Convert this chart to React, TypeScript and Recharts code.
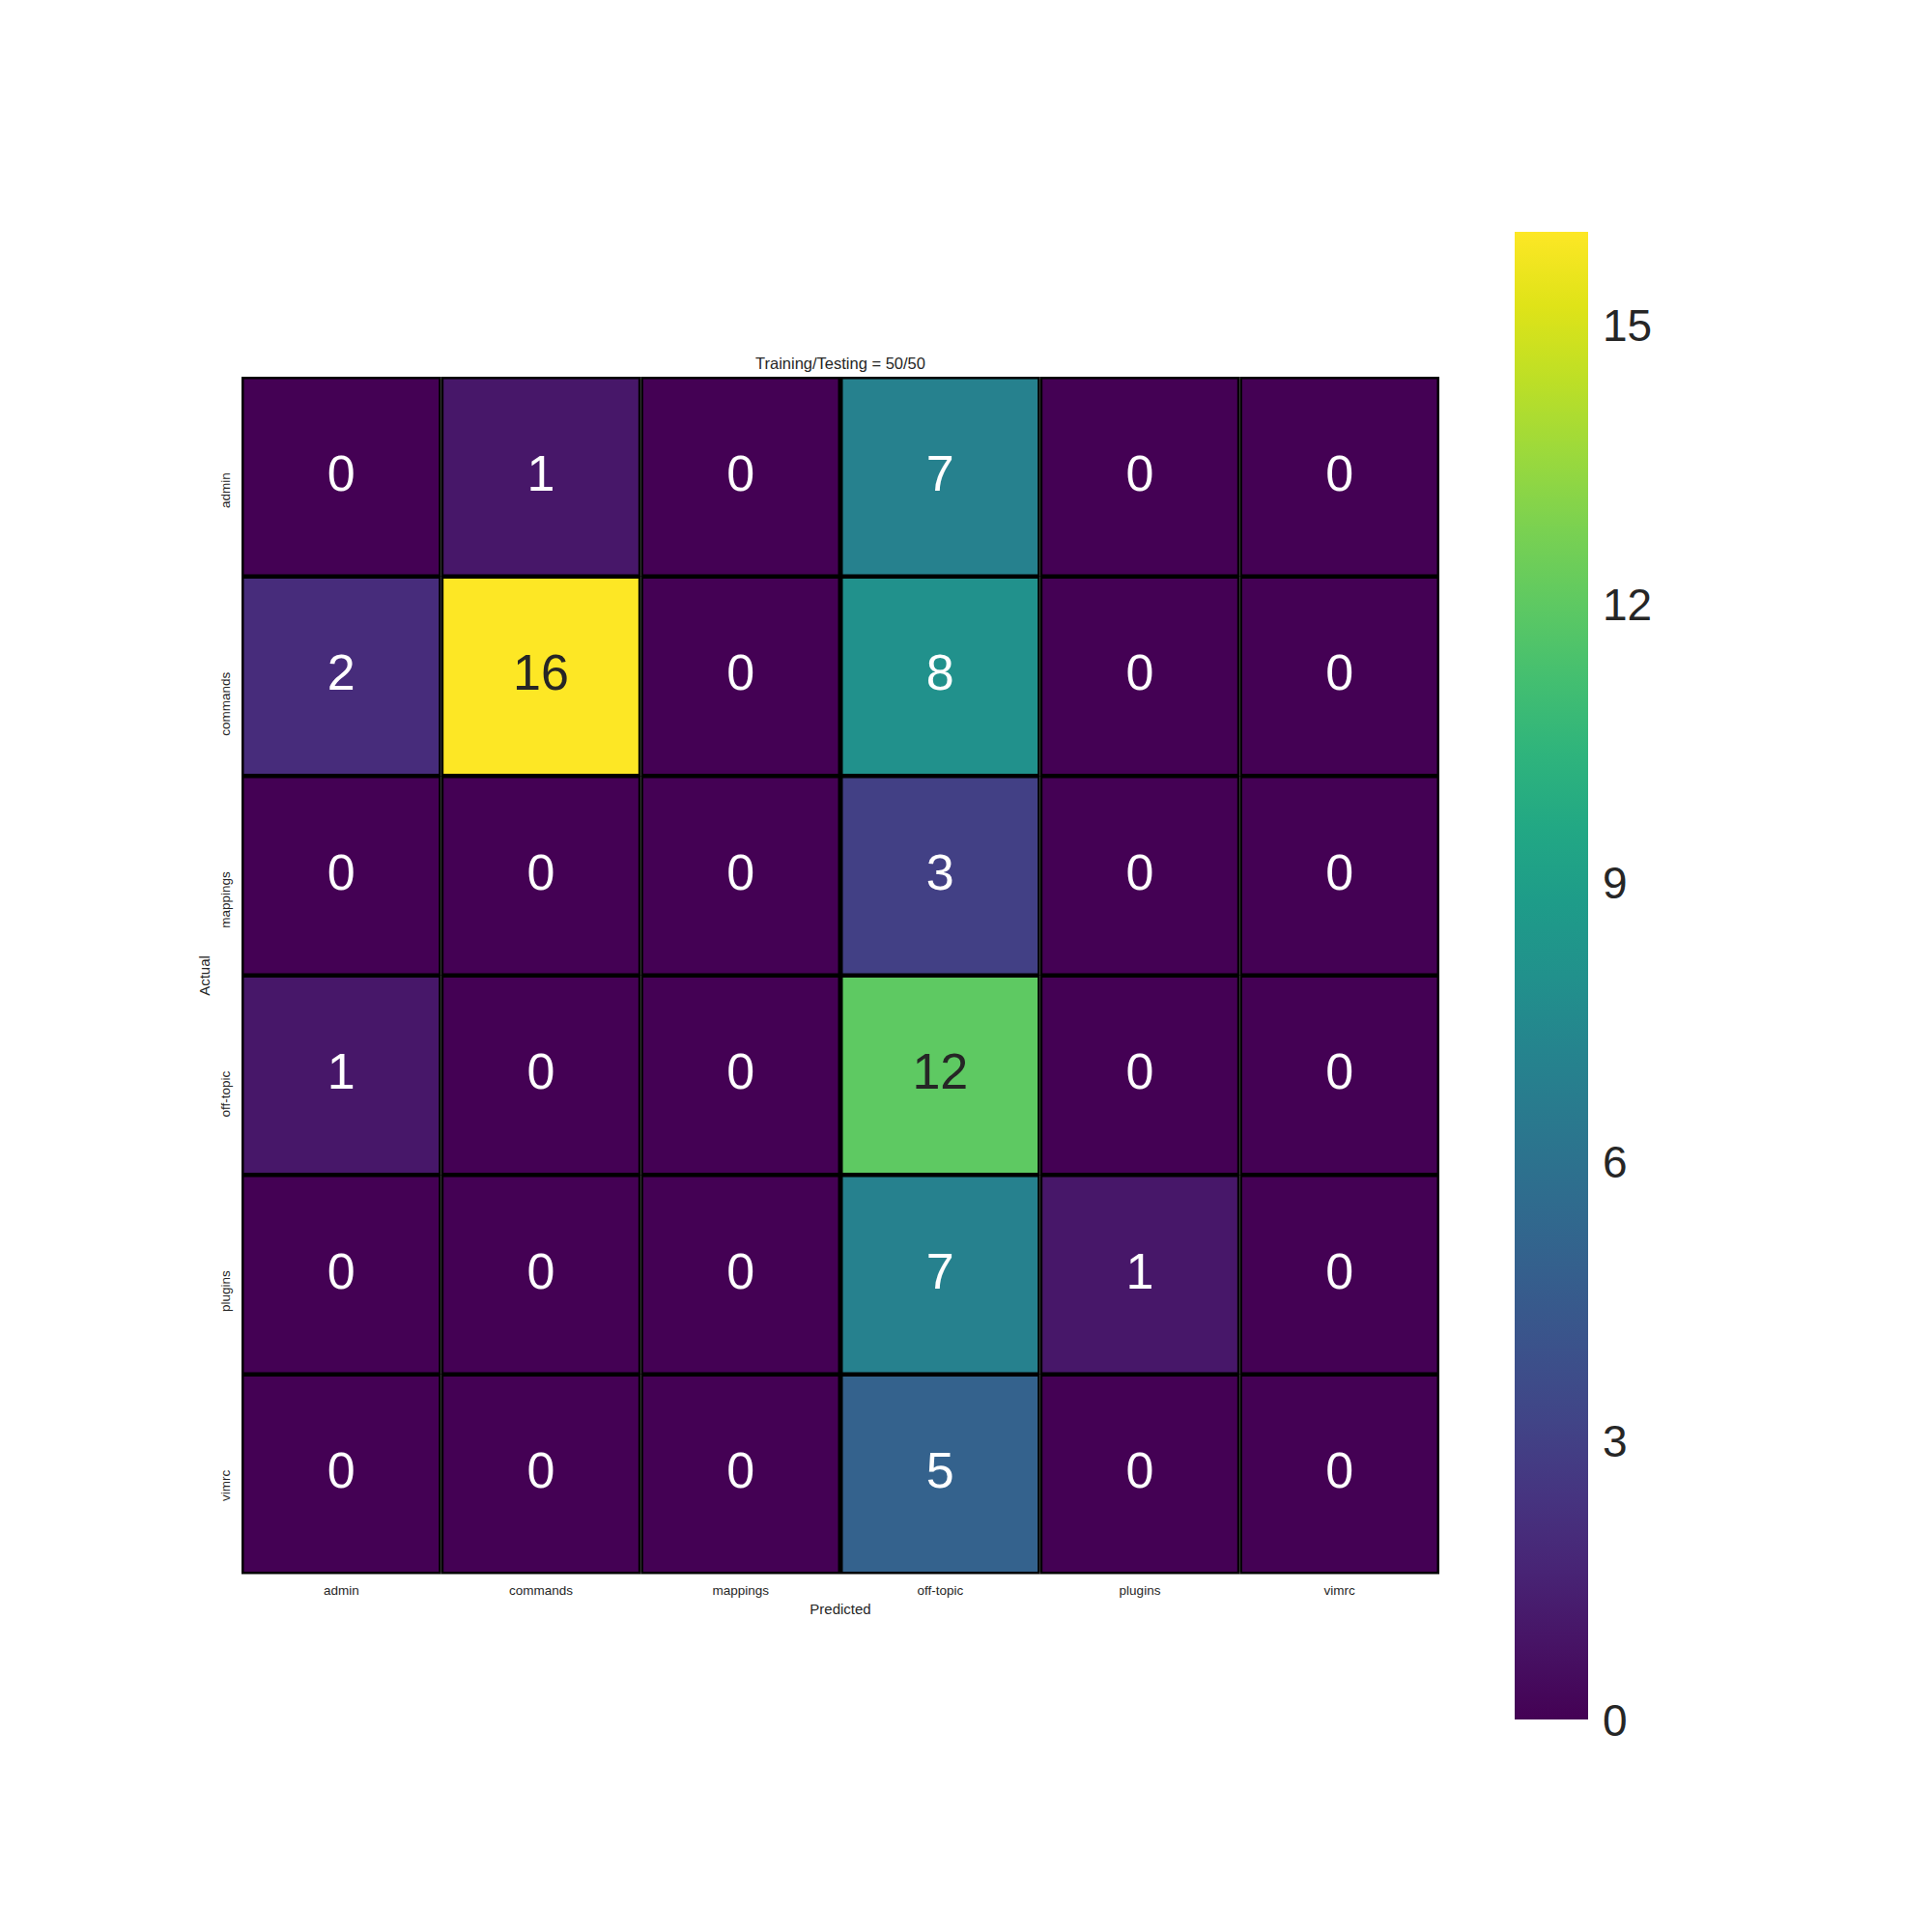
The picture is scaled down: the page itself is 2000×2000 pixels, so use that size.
import { Bar, BarChart, Cell, Customized, LabelList, XAxis, YAxis } from "recharts";

const rowNames = ["admin", "commands", "mappings", "off-topic", "plugins", "vimrc"];
const colNames = ["admin", "commands", "mappings", "off-topic", "plugins", "vimrc"];

const adminRow = [0, 1, 0, 7, 0, 0];
const commandsRow = [2, 16, 0, 8, 0, 0];
const mappingsRow = [0, 0, 0, 3, 0, 0];
const offTopicRow = [1, 0, 0, 12, 0, 0];
const pluginsRow = [0, 0, 0, 7, 1, 0];
const vimrcRow = [0, 0, 0, 5, 0, 0];

const matrix = [adminRow, commandsRow, mappingsRow, offTopicRow, pluginsRow, vimrcRow];

const colorbarTicks = [0, 3, 6, 9, 12, 15];
const vmax = 16;

const viridis = [
  "#440154", "#471365", "#482475", "#463480", "#414487", "#3b528b", "#355f8d",
  "#2f6c8e", "#2a788e", "#25848e", "#21918c", "#1e9c89", "#22a884", "#2fb47c",
  "#44bf70", "#5ec962", "#7ad151", "#9bd93c", "#bddf26", "#dfe318", "#fde725",
];

const FONT = '"Liberation Sans", Arial, sans-serif';
const TEXT = "#262626";

const hex = (c: string) => [1, 3, 5].map((i) => parseInt(c.slice(i, i + 2), 16));

const colorFor = (v: number) => {
  const t = Math.max(0, Math.min(1, v / vmax)) * (viridis.length - 1);
  const i = Math.min(Math.floor(t), viridis.length - 2);
  const f = t - i;
  const a = hex(viridis[i]);
  const b = hex(viridis[i + 1]);
  const rgb = a.map((x, k) => Math.round(x + (b[k] - x) * f));
  return `rgb(${rgb[0]},${rgb[1]},${rgb[2]})`;
};

const isLight = (v: number) => {
  const [r, g, b] = colorFor(v)
    .slice(4, -1)
    .split(",")
    .map((x) => Number(x) / 255)
    .map((c) => (c <= 0.03928 ? c / 12.92 : Math.pow((c + 0.055) / 1.055, 2.4)));
  return 0.2126 * r + 0.7152 * g + 0.0722 * b > 0.408;
};

const rows = rowNames.map((name) => {
  const r: Record<string, string | number> = { name };
  colNames.forEach((_, j) => (r[`c${j}`] = 1));
  return r;
});

const CellShape = (props: any) => {
  const { x, y, width, height, fill } = props;
  return (
    <rect
      x={x + 1.25}
      y={y + 1.25}
      width={width - 2.5}
      height={height - 2.5}
      fill={fill}
      stroke="#000"
      strokeWidth={2.5}
    />
  );
};

const makeLabel = (col: number) => (props: any) => {
  const { x, y, width, height, index } = props;
  const v = matrix[index][col];
  return (
    <text
      x={x + width / 2}
      y={y + height / 2 + 14}
      textAnchor="middle"
      fontSize={52}
      fontFamily={FONT}
      fill={isLight(v) ? TEXT : "#ffffff"}
    >
      {v}
    </text>
  );
};

const XTick = (props: any) => {
  const { x, y, payload } = props;
  return (
    <text x={x} y={y + 14} textAnchor="middle" fontSize={13.5} fontFamily={FONT} fill={TEXT}>
      {colNames[Math.floor(payload.value)]}
    </text>
  );
};

const YTick = (props: any) => {
  const { y, payload } = props;
  const bx = 229.5;
  const ty = y - 4;
  return (
    <text
      x={bx}
      y={ty}
      textAnchor="end"
      transform={`rotate(-90 ${bx} ${ty})`}
      fontSize={13.5}
      fontFamily={FONT}
      fill={TEXT}
    >
      {payload.value}
    </text>
  );
};

const Titles = () => (
  <g fontFamily={FONT} fill={TEXT}>
    <text x={862} y={374} textAnchor="middle" fontSize={16.5}>
      Training/Testing = 50/50
    </text>
    <text x={862} y={1663} textAnchor="middle" fontSize={15}>
      Predicted
    </text>
    <text x={208.5} y={1002} textAnchor="middle" fontSize={15} transform="rotate(-90 208.5 1002)">
      Actual
    </text>
  </g>
);

const CbTick = (props: any) => {
  const { x, y, payload } = props;
  return (
    <text x={x + 7} y={y} dy="0.36em" textAnchor="start" fontSize={46} fontFamily={FONT} fill={TEXT}>
      {payload.value}
    </text>
  );
};

const colorbarData = [{ name: "cb", v: vmax }];

export default function App() {
  return (
    <div style={{ position: "relative", width: 1984, height: 1984, background: "#fff" }}>
      <svg width={0} height={0} style={{ position: "absolute" }}>
        <defs>
          <linearGradient id="viridisGrad" x1="0" y1="1" x2="0" y2="0">
            {viridis.map((c, i) => (
              <stop key={i} offset={`${(i / (viridis.length - 1)) * 100}%`} stopColor={c} />
            ))}
          </linearGradient>
        </defs>
      </svg>
      <div style={{ position: "absolute", left: 0, top: 0 }}>
        <BarChart
          width={1984}
          height={1984}
          data={rows}
          layout="vertical"
          margin={{ top: 382, left: 202, right: 502, bottom: 323 }}
          barCategoryGap={0}
          barGap={0}
        >
          <XAxis
            type="number"
            domain={[0, 6]}
            ticks={[0.5, 1.5, 2.5, 3.5, 4.5, 5.5]}
            axisLine={false}
            tickLine={false}
            height={40}
            tick={<XTick />}
            interval={0}
          />
          <YAxis
            type="category"
            dataKey="name"
            width={40}
            axisLine={false}
            tickLine={false}
            tick={<YTick />}
            interval={0}
          />
          {colNames.map((_, j) => (
            <Bar
              key={j}
              dataKey={`c${j}`}
              stackId="m"
              isAnimationActive={false}
              shape={<CellShape />}
            >
              {rows.map((_, i) => (
                <Cell key={i} fill={colorFor(matrix[i][j])} />
              ))}
              <LabelList dataKey={`c${j}`} content={makeLabel(j)} />
            </Bar>
          ))}
          <Customized component={<Titles />} />
        </BarChart>
      </div>
      <div style={{ position: "absolute", left: 1560, top: 0 }}>
        <BarChart
          width={220}
          height={1984}
          data={colorbarData}
          margin={{ top: 232, left: 0, right: 0, bottom: 212 }}
          barCategoryGap={0}
        >
          <XAxis dataKey="name" hide />
          <YAxis
            orientation="right"
            domain={[0, vmax]}
            ticks={colorbarTicks}
            axisLine={false}
            tickLine={false}
            width={144}
            tick={<CbTick />}
            interval={0}
          />
          <Bar dataKey="v" fill="url(#viridisGrad)" isAnimationActive={false} />
        </BarChart>
      </div>
    </div>
  );
}
